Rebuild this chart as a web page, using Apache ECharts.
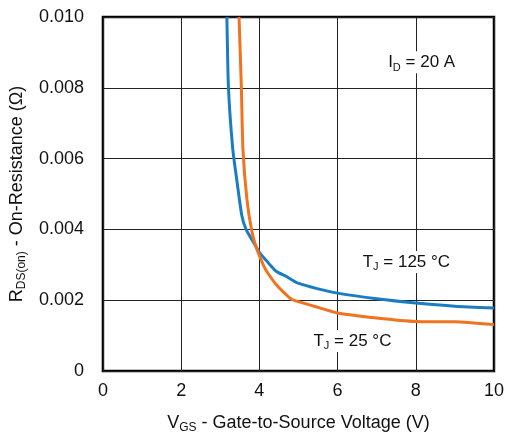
<!DOCTYPE html>
<html>
<head>
<meta charset="utf-8">
<script src="https://cdn.jsdelivr.net/npm/echarts@6/dist/echarts.min.js"></script>
<style>
	html, body { margin: 0; padding: 0; background: #fff; }
	#chart { width: 507px; height: 439px; }
</style>
</head>
<body>
<div id="chart"></div>
<script>
// TJ = 125 °C
const vgsHot = [3.17, 3.21, 3.32, 3.43, 3.55, 3.66, 3.89, 4.02, 4.2, 4.44, 4.69, 4.99, 5.5, 6.0, 7.0, 8.0, 9.0, 10];
const rdsHot = [0.0100, 0.0080, 0.00627, 0.00534, 0.0044, 0.0040, 0.00356, 0.00332, 0.00309, 0.00281, 0.00267, 0.00248, 0.00232, 0.0022, 0.00204, 0.00192, 0.00183, 0.00178];

// TJ = 25 °C
const vgsCold = [3.48, 3.54, 3.58, 3.68, 3.81, 3.93, 4.1, 4.19, 4.44, 4.78, 4.86, 5.4, 6.0, 7.0, 8.0, 9.0, 10];
const rdsCold = [0.0100, 0.0080, 0.00627, 0.00487, 0.00393, 0.00346, 0.0030, 0.00281, 0.00243, 0.00206, 0.00201, 0.00183, 0.00164, 0.0015, 0.0014, 0.00139, 0.00131];

const xTicks = [0, 2, 4, 6, 8, 10];
const yTicks = [0, 0.002, 0.004, 0.006, 0.008, 0.010];

// annotation text: [x, y, rich text]
const notes = [
	[8.15, 0.00872, "{m|I}{s|D}{m| = 20 A}"],
	[7.76, 0.00308, "{m|T}{s|J}{m| = 125 °C}"],
	[6.38, 0.00085, "{m|T}{s|J}{m| = 25 °C}"],
];

const font = "Liberation Sans, Arial, sans-serif";
const rich = {
	m: { fontSize: 18, fontFamily: font, color: "#111", lineHeight: 22, verticalAlign: "middle" },
	s: { fontSize: 12, fontFamily: font, color: "#111", lineHeight: 22, verticalAlign: "bottom" },
};
const noteRich = {
	m: { fontSize: 17, fontFamily: font, color: "#111", lineHeight: 22, verticalAlign: "middle" },
	s: { fontSize: 11, fontFamily: font, color: "#111", lineHeight: 22, verticalAlign: "bottom" },
};

const chart = echarts.init(document.getElementById("chart"), null, { renderer: "canvas" });

chart.setOption({
	animation : false,
	grid      : {
		left        : 102,
		right       : 11,
		top         : 17,
		bottom      : 66,
		show        : true,
		borderColor : "#000",
		borderWidth : 2.5,
	},
	xAxis: {
		type         : "value",
		min          : xTicks[0],
		max          : xTicks[xTicks.length - 1],
		interval     : 2,
		name         : "{m|V}{s|GS}{m| - Gate-to-Source Voltage (V)}",
		nameLocation : "middle",
		nameGap      : 41,
		nameTextStyle: { rich },
		axisLine     : { show: false },
		axisTick     : { show: false },
		axisLabel    : { fontSize: 18, fontFamily: font, color: "#111", margin: 11 },
		splitLine    : { show: true, lineStyle: { color: "#222", width: 1 } },
	},
	yAxis: {
		type         : "value",
		min          : yTicks[0],
		max          : yTicks[yTicks.length - 1],
		interval     : 0.002,
		name         : "{m|R}{s|DS(on)}{m| - On-Resistance (Ω)}",
		nameLocation : "middle",
		nameGap      : 74,
		nameTextStyle: { rich },
		axisLine     : { show: false },
		axisTick     : { show: false },
		axisLabel    : {
			fontSize  : 18,
			fontFamily: font,
			color     : "#111",
			margin    : 19,
			formatter : v => (v === 0 ? "0" : v.toFixed(3)),
		},
		splitLine: { show: true, lineStyle: { color: "#222", width: 1 } },
	},
	series: [
		{
			name      : "TJ = 125 °C",
			type      : "line",
			data      : vgsHot.map((x, i) => [x, rdsHot[i]]),
			showSymbol: false,
			smooth    : 0.2,
			lineStyle : { color: "#1a7dc4", width: 3 },
			z         : 3,
		},
		{
			name      : "TJ = 25 °C",
			type      : "line",
			data      : vgsCold.map((x, i) => [x, rdsCold[i]]),
			showSymbol: false,
			smooth    : 0.2,
			lineStyle : { color: "#f0731f", width: 3 },
			z         : 4,
		},
		{
			name      : "notes",
			type      : "scatter",
			data      : notes.map(n => [n[0], n[1]]),
			symbolSize: 0,
			itemStyle : { color: "#fff", opacity: 1 },
			silent    : true,
			z         : 5,
			label     : {
				show           : true,
				position       : "inside",
				color          : "#111",
				opacity        : 1,
				formatter      : p => notes[p.dataIndex][2],
				rich           : noteRich,
				backgroundColor: "#fff",
				padding        : [0, 4],
			},
		},
	],
});
</script>
</body>
</html>
